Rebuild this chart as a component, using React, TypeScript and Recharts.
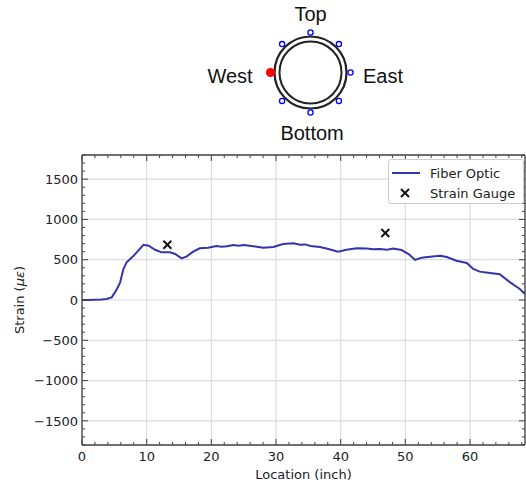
import { ComposedChart, ScatterChart, Line, Scatter, XAxis, YAxis, CartesianGrid, Legend, ReferenceDot } from 'recharts'

// fiber optic strain profile along the pipe
const location = [0, 1, 2, 3, 3.8, 4.6, 5.4, 5.9, 6.4, 6.9, 7.9, 8.7, 9.5, 10.3, 11.3, 12.3, 13.6, 14.4, 15.4, 16.2, 17.2, 18.2, 19.5, 20.8, 21.6, 22.4, 23.4, 24.2, 25.0, 26.5, 28.0, 29.6, 31.1, 32.7, 33.7, 34.5, 35.3, 36.8, 38.1, 39.6, 40.9, 42.5, 44.0, 45.0, 46.1, 47.2, 48.1, 49.4, 50.5, 51.5, 52.5, 53.8, 55.4, 56.4, 57.9, 59.5, 60.5, 61.5, 63.1, 64.6, 66.2, 67.7, 68.5]
const fiberStrain = [0, 0, 2, 5, 12, 33, 136, 219, 385, 468, 542, 612, 686, 674, 624, 592, 592, 571, 517, 542, 600, 642, 650, 670, 660, 667, 683, 675, 683, 667, 650, 658, 695, 703, 686, 690, 670, 658, 633, 600, 625, 642, 638, 630, 633, 625, 638, 620, 571, 497, 525, 538, 550, 534, 488, 460, 385, 352, 335, 319, 219, 136, 74]

const gaugeLocation = [13.2, 46.9]
const gaugeStrain = [686, 831]

const xTicks = [0, 10, 20, 30, 40, 50, 60]
const yTicks = [-1500, -1000, -500, 0, 500, 1000, 1500]
const xMinor = Array.from({ length: 35 }, (_, i) => i * 2)
const yMinor = Array.from({ length: 37 }, (_, i) => -1800 + i * 100)

// sensor positions around the pipe section (unit circle)
const sensorX = [0, 0.71, 1, 0.71, 0, -0.71, -0.71]
const sensorY = [1, 0.71, 0, -0.71, -1, -0.71, 0.71]
const westX = [-1]
const westY = [0]

const fiberData = location.map((loc, i) => ({ loc, strain: fiberStrain[i] }))
const gaugeData = gaugeLocation.map((loc, i) => ({ loc, strain: gaugeStrain[i] }))
const sensorData = sensorX.map((x, i) => ({ x, y: sensorY[i] }))
const westData = westX.map((x, i) => ({ x, y: westY[i] }))

const LINE = '#3434ad'
const SPINE = '#444'
const FONT = 'DejaVu Sans'
const PLOT_W = 443
const PLOT_H = 290

const XTick = (p: any) => (
  <text x={p.x} y={p.y} dy="0.71em" textAnchor="middle" fontFamily={FONT} fontSize={13} fill="#222">
    {p.payload.value}
  </text>
)

const YTick = (p: any) => (
  <text x={p.x} y={p.y} dy="0.36em" textAnchor="end" fontFamily={FONT} fontSize={13} fill="#222">
    {p.payload.value < 0 ? '\u2212' + Math.abs(p.payload.value) : p.payload.value}
  </text>
)

// inward ticks on top + bottom spines
const TopTicks = (p: any) => {
  const len = p.payload.value % 10 === 0 ? 6 : 3
  return (
    <g stroke={SPINE} strokeWidth={1}>
      <line x1={p.x} x2={p.x} y1={p.y} y2={p.y + len} />
      <line x1={p.x} x2={p.x} y1={p.y + PLOT_H} y2={p.y + PLOT_H - len} />
    </g>
  )
}

// inward ticks on right + left spines
const RightTicks = (p: any) => {
  const len = p.payload.value % 500 === 0 ? 6 : 3
  return (
    <g stroke={SPINE} strokeWidth={1}>
      <line x1={p.x} x2={p.x - len} y1={p.y} y2={p.y} />
      <line x1={p.x - PLOT_W} x2={p.x - PLOT_W + len} y1={p.y} y2={p.y} />
    </g>
  )
}

const Cross = (p: any) => (
  <g stroke="#111" strokeWidth={2}>
    <line x1={p.cx - 4} x2={p.cx + 4} y1={p.cy - 4} y2={p.cy + 4} />
    <line x1={p.cx - 4} x2={p.cx + 4} y1={p.cy + 4} y2={p.cy - 4} />
  </g>
)

const Sensor = (p: any) => <circle cx={p.cx} cy={p.cy} r={2.6} fill="#fff" stroke="#0000ff" strokeWidth={1.3} />
const WestSensor = (p: any) => <circle cx={p.cx} cy={p.cy} r={4.5} fill="#ff0000" />

const LegendBox = () => (
  <div style={{ width: 136, height: 45, border: '1px solid #cccccc', borderRadius: 3, background: '#fff', boxSizing: 'border-box', position: 'relative' }}>
    <svg width={136} height={45} style={{ position: 'absolute', left: -1, top: -1 }}>
      <line x1={4} x2={32} y1={14} y2={14} stroke={LINE} strokeWidth={2} />
      <g stroke="#111" strokeWidth={2}>
        <line x1={13} x2={21} y1={30} y2={38} />
        <line x1={13} x2={21} y1={38} y2={30} />
      </g>
      <text x={42} y={18.5} fontFamily={FONT} fontSize={13} fill="#222">Fiber Optic</text>
      <text x={42} y={39} fontFamily={FONT} fontSize={13} fill="#222">Strain Gauge</text>
    </svg>
  </div>
)

const labelStyle = { fontSize: 20, fill: '#111', fontFamily: 'Liberation Sans, Arial' }

export default function App() {
  return (
    <div style={{ position: 'absolute', left: 0, top: 0, width: 526, height: 486, background: '#fff' }}>
      <div style={{ position: 'absolute', left: 0, top: 0 }}>
        <ComposedChart width={526} height={486} data={fiberData} margin={{ top: 154, right: 0, bottom: 1, left: 22 }}>
          <CartesianGrid stroke="#dcdcdc" strokeWidth={1.2} />
          <XAxis
            dataKey="loc"
            type="number"
            domain={[0, 68.5]}
            allowDataOverflow
            ticks={xTicks}
            interval={0}
            height={40}
            tickSize={0}
            tickMargin={7}
            tickLine={false}
            axisLine={{ stroke: SPINE, strokeWidth: 1.3 }}
            tick={XTick}
            label={{ value: 'Location (inch)', position: 'insideBottom', offset: 6, fontFamily: FONT, fontSize: 13, fill: '#222' }}
          />
          <YAxis
            type="number"
            domain={[-1800, 1800]}
            allowDataOverflow
            ticks={yTicks}
            interval={0}
            width={60}
            tickSize={0}
            tickMargin={4}
            tickLine={false}
            axisLine={{ stroke: SPINE, strokeWidth: 1.3 }}
            tick={YTick}
            label={{
              content: () => (
                <text x={24} y={300} transform="rotate(-90 24 300)" textAnchor="middle" fontFamily={FONT} fontSize={13} fill="#222">
                  Strain (<tspan fontStyle="italic">με</tspan>)
                </text>
              ),
            }}
          />
          <XAxis
            xAxisId="top"
            orientation="top"
            dataKey="loc"
            type="number"
            domain={[0, 68.5]}
            allowDataOverflow
            ticks={xMinor}
            interval={0}
            height={1}
            tickSize={0}
            tickMargin={0}
            tickLine={false}
            axisLine={{ stroke: SPINE, strokeWidth: 1.3 }}
            tick={TopTicks}
          />
          <YAxis
            yAxisId="right"
            orientation="right"
            type="number"
            domain={[-1800, 1800]}
            allowDataOverflow
            ticks={yMinor}
            interval={0}
            width={1}
            tickSize={0}
            tickMargin={0}
            tickLine={false}
            axisLine={{ stroke: SPINE, strokeWidth: 1.3 }}
            tick={RightTicks}
          />
          <Line dataKey="strain" name="Fiber Optic" stroke={LINE} strokeWidth={2} dot={false} isAnimationActive={false} />
          <Scatter data={gaugeData} dataKey="strain" name="Strain Gauge" xAxisId="top" yAxisId="right" shape={Cross} isAnimationActive={false} />
          <Legend
            layout="vertical"
            align="center"
            verticalAlign="middle"
            content={() => <LegendBox />}
            wrapperStyle={{ position: 'absolute', left: 388, top: 159, width: 136, height: 45 }}
          />
        </ComposedChart>
      </div>
      <div style={{ position: 'absolute', left: 0, top: 0 }}>
        <ScatterChart width={526} height={150} margin={{ top: 0, right: 0, bottom: 0, left: 0 }}>
          <XAxis dataKey="x" type="number" domain={[-7.7625, 5.3875]} allowDataOverflow hide />
          <YAxis dataKey="y" type="number" domain={[-1.9375, 1.8125]} allowDataOverflow hide />
          <ReferenceDot x={0} y={0} r={36} fill="none" stroke="#222" strokeWidth={2.2} />
          <ReferenceDot x={0} y={0} r={31} fill="none" stroke="#222" strokeWidth={2} />
          <Scatter data={sensorData} shape={Sensor} isAnimationActive={false} />
          <Scatter data={westData} shape={WestSensor} isAnimationActive={false} />
          <ReferenceDot x={0} y={1.4625} r={1} fill="none" stroke="none" label={{ value: 'Top', position: 'center', ...labelStyle }} />
          <ReferenceDot x={-2.0125} y={-0.0925} r={1} fill="none" stroke="none" label={{ value: 'West', position: 'center', ...labelStyle }} />
          <ReferenceDot x={1.8125} y={-0.0925} r={1} fill="none" stroke="none" label={{ value: 'East', position: 'center', ...labelStyle }} />
          <ReferenceDot x={0.04} y={-1.5125} r={1} fill="none" stroke="none" label={{ value: 'Bottom', position: 'center', ...labelStyle }} />
        </ScatterChart>
      </div>
    </div>
  )
}
